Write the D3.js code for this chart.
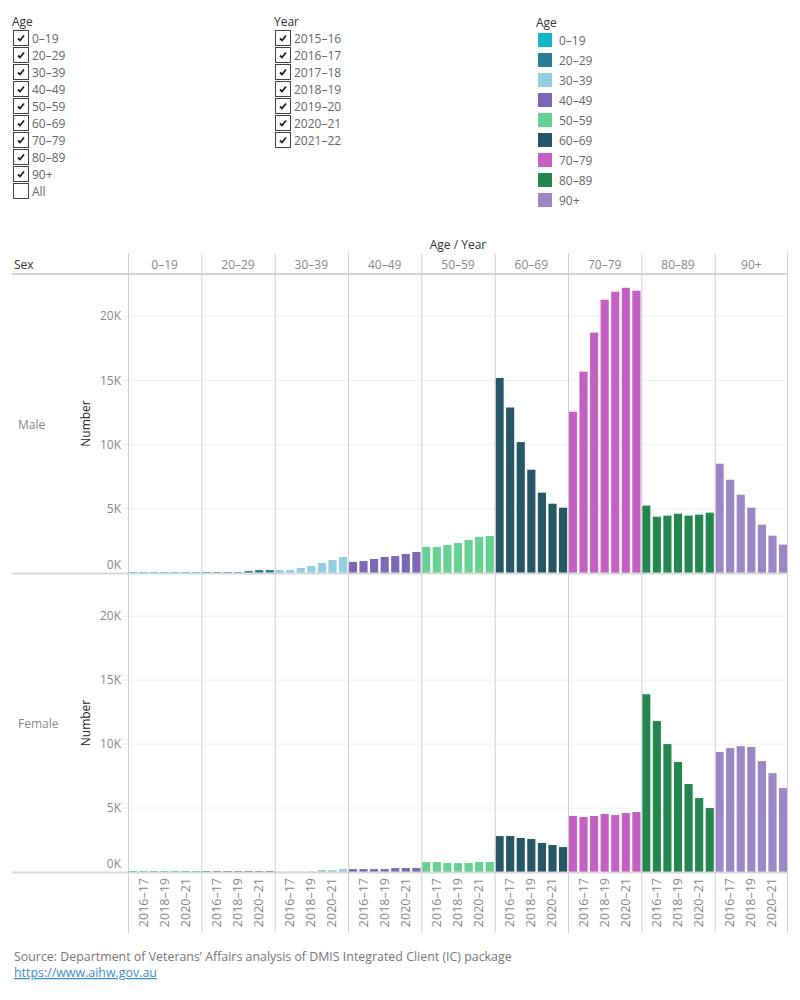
<!DOCTYPE html>
<html lang="en">
<head>
  <meta charset="UTF-8">
  <title>Veterans by age and sex</title>
  <script src="https://d3js.org/d3.v7.min.js"></script>
  <style>
    body { margin: 0; background: #fff; font-family: "Open Sans", "Noto Sans", sans-serif; }
    svg { display: block; }
    text { font-family: "Open Sans", "Noto Sans", sans-serif; }
  </style>
</head>
<body>
<svg width="800" height="1000"></svg>
<script>
  // data (thousands)
  const ages = ['0–19', '20–29', '30–39', '40–49', '50–59', '60–69', '70–79', '80–89', '90+'];
  const years = ['2015–16', '2016–17', '2017–18', '2018–19', '2019–20', '2020–21', '2021–22'];
  const sexes = ['Male', 'Female'];
  const ageColors = ['#12b8c8', '#2a7f96', '#93cfe0', '#7b69b5', '#66d192', '#265766', '#c65fc4', '#23874f', '#9a87c4'];

  const male = [
    [0.08, 0.08, 0.08, 0.08, 0.08, 0.08, 0.08],
    [0.08, 0.08, 0.08, 0.08, 0.16, 0.23, 0.23],
    [0.23, 0.23, 0.39, 0.55, 0.78, 1.01, 1.25],
    [0.86, 0.93, 1.09, 1.25, 1.32, 1.48, 1.64],
    [2.03, 2.03, 2.18, 2.34, 2.57, 2.81, 2.88],
    [15.2, 12.9, 10.2, 8.05, 6.26, 5.4, 5.09],
    [12.57, 15.69, 18.73, 21.3, 21.92, 22.23, 22.0],
    [5.25, 4.39, 4.47, 4.62, 4.47, 4.55, 4.7],
    [8.52, 7.27, 6.1, 5.09, 3.77, 2.91, 2.21]
  ];
  const female = [
    [0.08, 0.08, 0.08, 0.08, 0.08, 0.08, 0.08],
    [0.08, 0.08, 0.08, 0.08, 0.08, 0.08, 0.08],
    [0.03, 0.03, 0.03, 0.05, 0.16, 0.16, 0.23],
    [0.23, 0.23, 0.23, 0.23, 0.31, 0.31, 0.31],
    [0.78, 0.78, 0.7, 0.7, 0.7, 0.78, 0.78],
    [2.81, 2.81, 2.66, 2.58, 2.27, 2.11, 1.95],
    [4.38, 4.3, 4.38, 4.53, 4.45, 4.61, 4.69],
    [13.9, 11.8, 10.0, 8.6, 6.88, 5.78, 5.0],
    [9.38, 9.69, 9.84, 9.77, 8.67, 7.73, 6.56]
  ];
  const yTicks = [0, 5, 10, 15, 20];
  const yearLabels = ['2016–17', '2018–19', '2020–21'];

  const svg = d3.select('svg');
  const grey = '#666';

  // ---- filter lists with checkboxes ----
  function checkList(x, y, title, items, checked) {
    const g = svg.append('g').attr('transform', `translate(${x},${y})`);
    g.append('text').attr('x', 0).attr('y', 0).attr('font-size', 12).attr('fill', '#333').text(title);
    items.forEach((d, i) => {
      const row = g.append('g').attr('transform', `translate(1,${4 + i * 17})`);
      row.append('rect').attr('x', 0.5).attr('y', 0.5).attr('width', 15).attr('height', 15)
        .attr('fill', '#fff').attr('stroke', '#444');
      if (checked(d, i)) {
        row.append('path').attr('d', 'M5,8.5 L7,10.5 L11,5.5')
          .attr('fill', 'none').attr('stroke', '#222').attr('stroke-width', 1.8);
      }
      row.append('text').attr('x', 19).attr('y', 12.5).attr('font-size', 12).attr('fill', grey).text(d);
    });
  }
  checkList(12, 26, 'Age', ages.concat(['All']), d => d !== 'All');
  checkList(274, 26, 'Year', years, () => true);

  // ---- colour legend ----
  const leg = svg.append('g').attr('transform', 'translate(536,27)');
  leg.append('text').attr('font-size', 12).attr('fill', '#333').text('Age');
  ages.forEach((a, i) => {
    const row = leg.append('g').attr('transform', `translate(2,${6 + i * 20})`);
    row.append('rect').attr('width', 14).attr('height', 14).attr('fill', ageColors[i]);
    row.append('text').attr('x', 21).attr('y', 11.5).attr('font-size', 12).attr('fill', grey).text(a);
  });

  // ---- chart layout ----
  const left = 128, right = 788;
  const headerTop = 253, headerBottom = 274;
  const panels = [
    { sex: 'Male', data: male, top: 274, bottom: 573 },
    { sex: 'Female', data: female, top: 574, bottom: 872 }
  ];
  const axisBottom = 933;

  const xAge = d3.scaleBand().domain(ages).range([left, right]);
  const xYear = d3.scaleBand().domain(years).range([0, xAge.bandwidth()]).paddingInner(0.23).paddingOuter(0.08);
  const color = d3.scaleOrdinal().domain(ages).range(ageColors);

  // header
  svg.append('text').attr('x', xAge.range()[0] + (right - left) / 2).attr('y', 249)
    .attr('text-anchor', 'middle').attr('font-size', 12).attr('fill', '#333').text('Age / Year');
  svg.append('text').attr('x', 14).attr('y', 269).attr('font-size', 12).attr('fill', '#333').text('Sex');
  svg.append('g').selectAll('text').data(ages).join('text')
    .attr('x', d => xAge(d) + xAge.bandwidth() / 2).attr('y', 269)
    .attr('text-anchor', 'middle').attr('font-size', 12).attr('fill', '#888').text(d => d);
  svg.append('line').attr('x1', 12).attr('x2', right).attr('y1', headerBottom).attr('y2', headerBottom)
    .attr('stroke', '#d4d4d4').attr('stroke-width', 2);

  panels.forEach(p => {
    const y = d3.scaleLinear().domain([0, 23.3]).range([p.bottom, p.top]);

    // gridlines
    svg.append('g').selectAll('line').data(yTicks.slice(1)).join('line')
      .attr('x1', left - 6).attr('x2', right).attr('y1', d => y(d)).attr('y2', d => y(d))
      .attr('stroke', '#efefef').attr('stroke-width', 1);

    // tick labels
    svg.append('g').selectAll('text').data(yTicks).join('text')
      .attr('x', 121).attr('y', d => y(d) + (d === 0 ? -4 : 4))
      .attr('text-anchor', 'end').attr('font-size', 12).attr('fill', '#888')
      .text(d => d + 'K');

    // axis title
    const mid = (p.top + p.bottom) / 2;
    svg.append('text').attr('transform', `translate(90,${mid}) rotate(-90)`)
      .attr('text-anchor', 'middle').attr('font-size', 12).attr('fill', '#222').text('Number');

    // row label
    svg.append('text').attr('x', 18).attr('y', (p.top + p.bottom) / 2 + 5)
      .attr('font-size', 12).attr('fill', '#888').text(p.sex);

    // bars
    ages.forEach((a, i) => {
      svg.append('g').attr('transform', `translate(${xAge(a)},0)`)
        .selectAll('rect').data(p.data[i]).join('rect')
        .attr('x', (d, j) => xYear(years[j]))
        .attr('width', xYear.bandwidth())
        .attr('y', d => y(d))
        .attr('height', d => Math.max(1.5, y(0) - y(d)))
        .attr('fill', color(a));
    });

    // baseline
    svg.append('line').attr('x1', 12).attr('x2', right).attr('y1', p.bottom + 0.5).attr('y2', p.bottom + 0.5)
      .attr('stroke', '#d9d9d9').attr('stroke-width', 2);
  });

  // column dividers
  const dividers = ages.map(a => xAge(a)).concat([right - 1]);
  svg.append('g').selectAll('line').data(dividers).join('line')
    .attr('x1', d => d + 0.5).attr('x2', d => d + 0.5)
    .attr('y1', headerTop).attr('y2', axisBottom)
    .attr('stroke', '#cfcfcf').attr('stroke-width', 1);

  // year labels under each column
  ages.forEach(a => {
    svg.append('g').attr('transform', `translate(${xAge(a)},0)`)
      .selectAll('text').data(yearLabels).join('text')
      .attr('transform', d => `translate(${xYear(d) + xYear.bandwidth() / 2 + 4},878) rotate(-90)`)
      .attr('text-anchor', 'end').attr('font-size', 12.5).attr('fill', '#888').text(d => d);
  });

  // source
  svg.append('text').attr('x', 14).attr('y', 961).attr('font-size', 12.4).attr('fill', '#777')
    .text('Source: Department of Veterans\u2019 Affairs analysis of DMIS Integrated Client (IC) package');
  svg.append('text').attr('x', 14).attr('y', 977).attr('font-size', 12.4).attr('fill', '#3a8fc8')
    .attr('text-decoration', 'underline').text('https://www.aihw.gov.au');
</script>
</body>
</html>
